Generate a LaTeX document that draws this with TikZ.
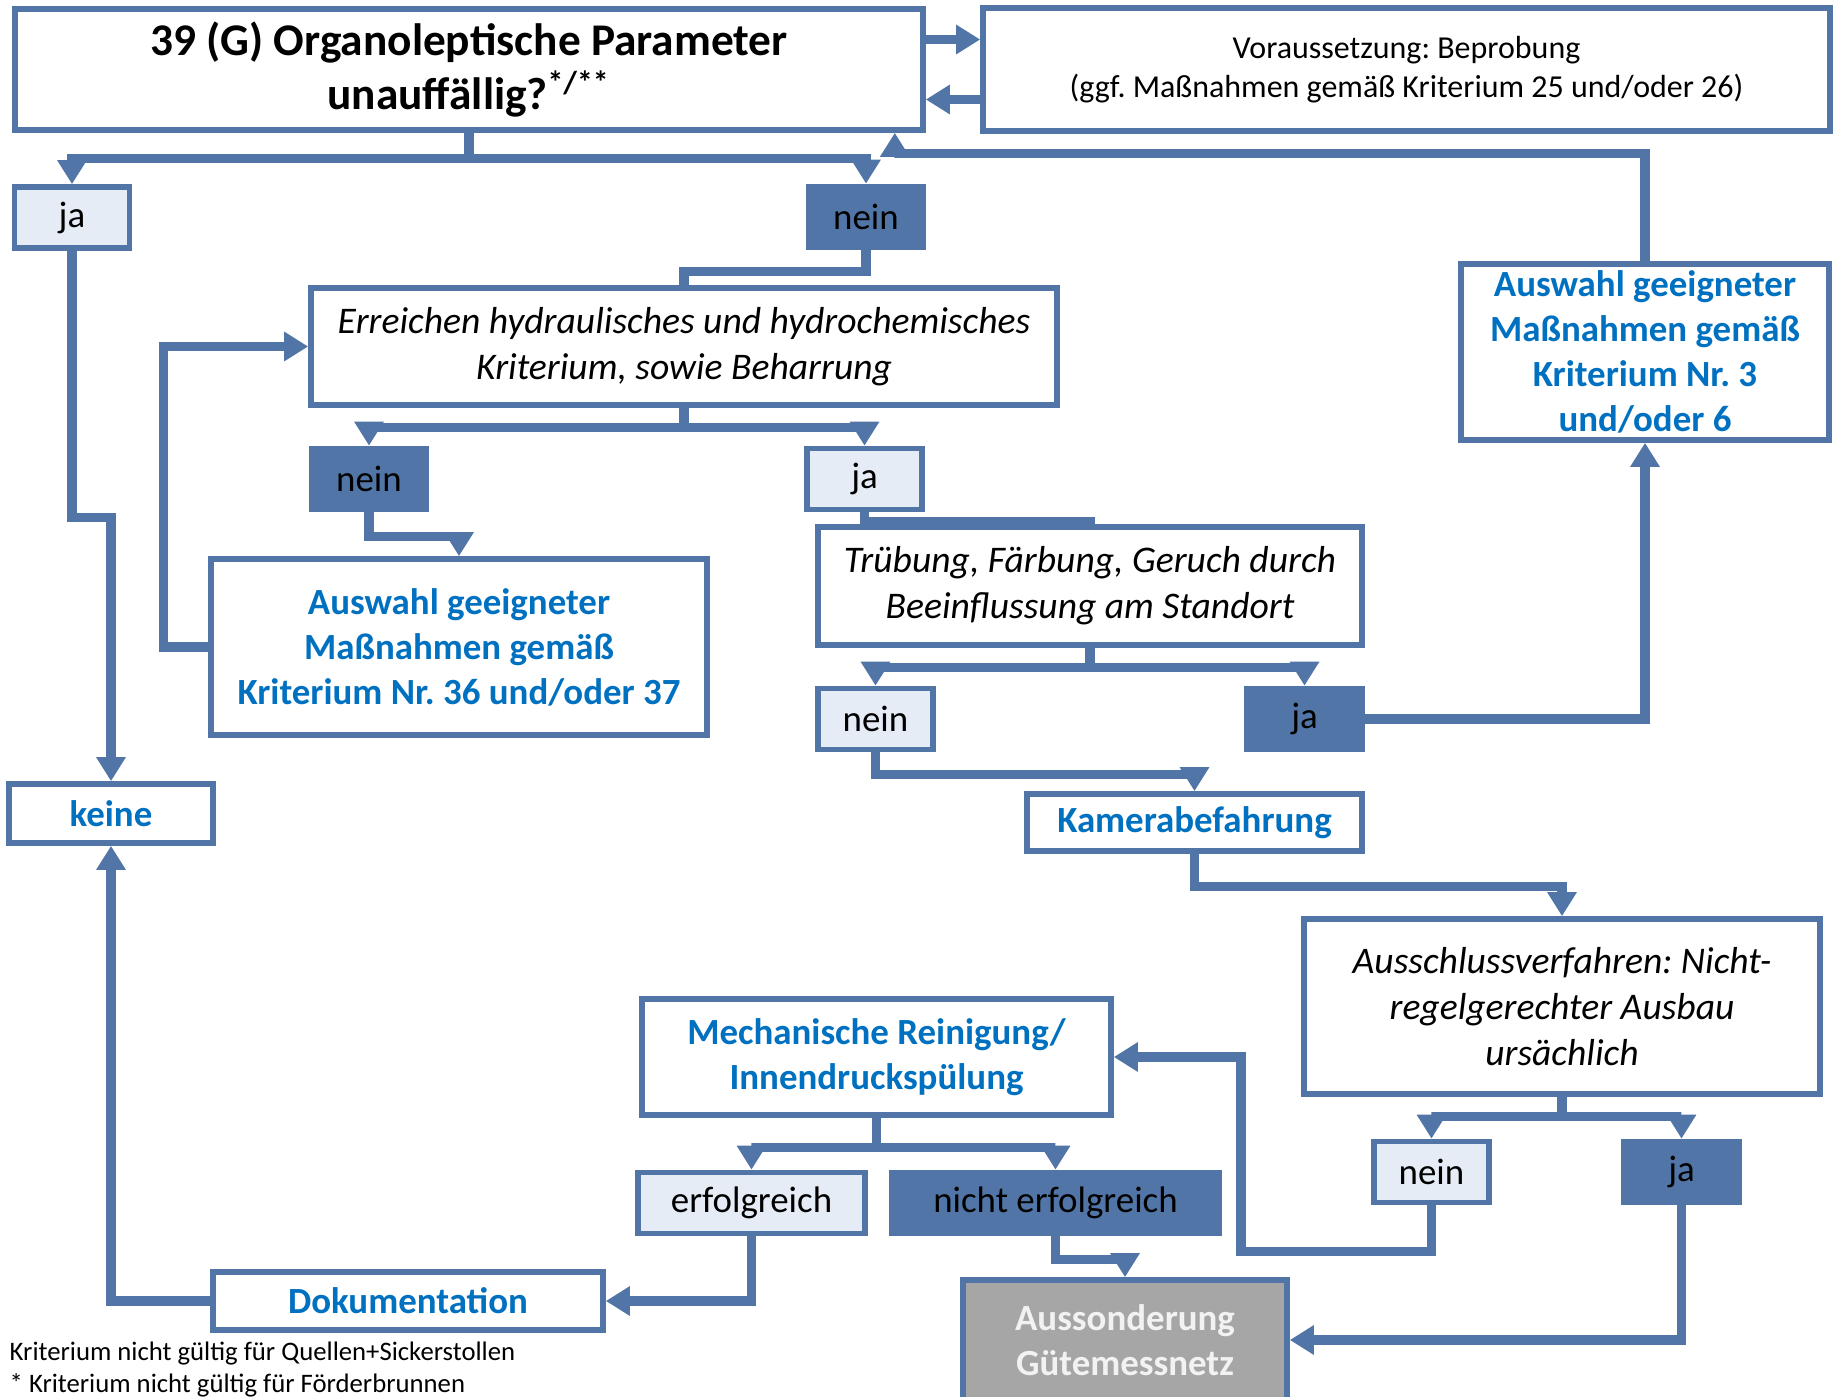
\documentclass[tikz,border=0pt]{standalone}
\usepackage{fontspec}
\setmainfont{Carlito}
\usetikzlibrary{arrows.meta, positioning}
\definecolor{flowline}{RGB}{81,117,166}
\definecolor{lightbox}{RGB}{229,236,246}
\definecolor{textblue}{RGB}{0,112,192}
\definecolor{greybox}{RGB}{166,166,166}
\frenchspacing

\begin{document}
\begin{tikzpicture}[
  box/.style={draw=flowline, line width=1.6pt, fill=white, inner sep=0pt, align=center, font=\fontsize{10.5}{12.8}\selectfont},
  actbox/.style={box, text=textblue, font=\fontsize{10.5}{12.8}\selectfont\bfseries},
  askbox/.style={box, font=\fontsize{10.7}{13.1}\selectfont\itshape},
  anslight/.style={box, fill=lightbox, minimum width=1.15cm, minimum height=0.61cm, font=\fontsize{10.5}{12.5}\selectfont},
  ansdark/.style={anslight, fill=flowline},
  conn/.style={draw=flowline, line width=2.6pt, -{Triangle[length=0.24cm,width=0.28cm]}},
  link/.style={draw=flowline, line width=2.6pt}
]
  \useasboundingbox (0,0) rectangle (18.41,-13.97);

  \node[box, minimum width=9.08cm, minimum height=1.21cm, font=\fontsize{12.9}{15.2}\selectfont\bfseries] (top) at (4.69,-0.695)
    {39 (G) Organoleptische Parameter\\unauffällig?\textsuperscript{*/**}};
  \node[box, minimum width=8.47cm, minimum height=1.23cm, font=\fontsize{9.1}{11.3}\selectfont] (vor) at (14.065,-0.695)
    {Voraussetzung: Beprobung\\(ggf. Maßnahmen gemäß Kriterium 25 und/oder 26)};

  \node[anslight] (ja1) at (0.72,-2.175) {ja};
  \node[ansdark] (nein1) at (8.66,-2.17) {nein};

  \node[askbox, minimum width=7.46cm, minimum height=1.17cm] (erreich) at (6.84,-3.465)
    {Erreichen hydraulisches und hydrochemisches\\Kriterium, sowie Beharrung};
  \node[ansdark] (nein2) at (3.69,-4.79) {nein};
  \node[anslight] (ja2) at (8.645,-4.79) {ja};
  \node[actbox, minimum width=4.96cm, minimum height=1.76cm] (ausw36) at (4.59,-6.47)
    {Auswahl geeigneter\\Maßnahmen gemäß\\Kriterium Nr. 36 und/oder 37};

  \node[askbox, minimum width=5.44cm, minimum height=1.18cm] (trueb) at (10.90,-5.86)
    {Trübung, Färbung, Geruch durch\\Beeinflussung am Standort};
  \node[anslight] (nein3) at (8.755,-7.19) {nein};
  \node[ansdark] (ja3) at (13.045,-7.19) {ja};
  \node[actbox, minimum width=3.68cm, minimum height=1.76cm] (ausw3) at (16.45,-3.52)
    {Auswahl geeigneter\\Maßnahmen gemäß\\Kriterium Nr. 3\\und/oder 6};

  \node[actbox, minimum width=2.04cm, minimum height=0.59cm] (keine) at (1.11,-8.135) {keine};
  \node[actbox, minimum width=3.35cm, minimum height=0.57cm] (kamera) at (11.945,-8.225) {Kamerabefahrung};

  \node[askbox, minimum width=5.16cm, minimum height=1.75cm] (aussch) at (15.62,-10.065)
    {Ausschlussverfahren: Nicht-\\regelgerechter Ausbau\\ursächlich};
  \node[anslight] (nein4) at (14.315,-11.72) {nein};
  \node[ansdark] (ja4) at (16.815,-11.72) {ja};

  \node[actbox, minimum width=4.69cm, minimum height=1.16cm] (mech) at (8.765,-10.57)
    {Mechanische Reinigung/\\Innendruckspülung};
  \node[anslight, minimum width=2.27cm] (erfolg) at (7.515,-12.03) {erfolgreich};
  \node[ansdark, minimum width=3.27cm] (nichterf) at (10.555,-12.03) {nicht erfolgreich};

  \node[actbox, minimum width=3.90cm, minimum height=0.58cm] (doku) at (4.08,-13.01) {Dokumentation};
  \node[box, fill=greybox, text=white!95!black, minimum width=3.24cm, minimum height=1.20cm, font=\fontsize{10.5}{12.8}\selectfont\bfseries] (aussond) at (11.25,-13.40)
    {Aussonderung\\Gütemessnetz};

  \node[anchor=north west, inner sep=0pt, align=left, font=\fontsize{7.6}{9.2}\selectfont] (note) at (0.09,-13.41)
    {Kriterium nicht gültig für Quellen+Sickerstollen\\* Kriterium nicht gültig für Förderbrunnen};

  % connectors
  \draw[conn] ([yshift=0.3cm]top.east) -- ([yshift=0.3cm]top.east -| vor.west);
  \draw[conn] ([yshift=-0.3cm]top.east -| vor.west) -- ([yshift=-0.3cm]top.east);
  \draw[conn] (top.south) -- ++(0,-0.26) -| (ja1.north);
  \draw[conn] (top.south) -- ++(0,-0.26) -| (nein1.north);
  \draw[link] (nein1.south) -- ++(0,-0.21) -| (erreich.north);
  \draw[conn] (erreich.south) -- ++(0,-0.2) -| (nein2.north);
  \draw[conn] (erreich.south) -- ++(0,-0.2) -| (ja2.north);
  \draw[conn] (nein2.south) -- ++(0,-0.24) -| (ausw36.north);
  \draw[conn] (ausw36.west) -- ++(-0.45,0) |- (erreich.west);
  \draw[link] (ja2.south) -- ++(0,-0.09) -| (trueb.north);
  \draw[conn] (trueb.south) -- ++(0,-0.2) -| (nein3.north);
  \draw[conn] (trueb.south) -- ++(0,-0.2) -| (ja3.north);
  \draw[conn] (ja3.east) -| (ausw3.south);
  \draw[conn] (ausw3.north) -- ++(0,1.08) -| ([xshift=-0.31cm]top.south east);
  \draw[conn] (nein3.south) -- ++(0,-0.22) -| (kamera.north);
  \draw[conn] (kamera.south) -- ++(0,-0.33) -| (aussch.north);
  \draw[conn] (aussch.south) -- ++(0,-0.2) -| (nein4.north);
  \draw[conn] (aussch.south) -- ++(0,-0.2) -| (ja4.north);
  \draw[conn] (nein4.south) -- ++(0,-0.46) -- ++(-1.905,0) |- (mech.east);
  \draw[conn] (mech.south) -- ++(0,-0.3) -| (erfolg.north);
  \draw[conn] (mech.south) -- ++(0,-0.3) -| (nichterf.north);
  \draw[conn] (erfolg.south) |- (doku.east);
  \draw[conn] (doku.west) -| (keine.south);
  \draw[conn] (ja1.south) -- ++(0,-2.67) -| (keine.north);
  \draw[conn] (nichterf.south) -- ++(0,-0.23) -| (aussond.north);
  \draw[conn] (ja4.south) |- (aussond.east);
\end{tikzpicture}
\end{document}
